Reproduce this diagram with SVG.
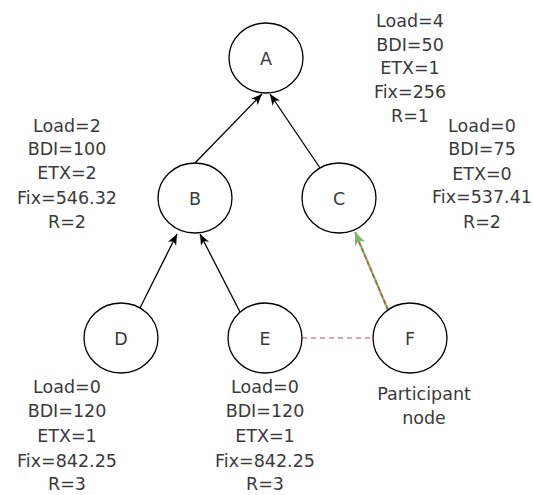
<svg xmlns="http://www.w3.org/2000/svg" width="533" height="495" viewBox="0 0 533 495">
<style>
.node ellipse{fill:#fff;stroke:#000;stroke-width:1.3}
.lbl{font-family:"DejaVu Sans",sans-serif;font-size:17.5px;fill:#3a3a3a;text-anchor:middle}
.info{font-family:"DejaVu Sans",sans-serif;font-size:17.5px;fill:#3a3a3a;text-anchor:middle}
.edge{stroke:#000;stroke-width:1.3;fill:none}
</style>
<defs>
<marker id="ah" markerUnits="userSpaceOnUse" markerWidth="12" markerHeight="10" refX="11" refY="4.5" orient="auto">
<path d="M0,0 L11,4.5 L0,9 L3,4.5 z" fill="#000"/>
</marker>
<marker id="ahg" markerUnits="userSpaceOnUse" markerWidth="14" markerHeight="12" refX="13" refY="5.5" orient="auto">
<path d="M0,0 L13,5.5 L0,11 L3.5,5.5 z" fill="#82b366"/>
</marker>
</defs>
<g id="connectors">
<line class="edge" x1="195" y1="163" x2="262" y2="94" marker-end="url(#ah)"/>
<line class="edge" x1="320" y1="168" x2="270" y2="94" marker-end="url(#ah)"/>
<line class="edge" x1="140" y1="308" x2="177" y2="234" marker-end="url(#ah)"/>
<line class="edge" x1="240" y1="312" x2="200" y2="234" marker-end="url(#ah)"/>
<line x1="388" y1="310" x2="355" y2="232" stroke="#82b366" stroke-width="2.2" marker-end="url(#ahg)"/>
<line x1="388" y1="310" x2="359" y2="242" stroke="#b85450" stroke-width="1.4" stroke-dasharray="4,3"/>
<line x1="302" y1="338" x2="373" y2="338" stroke="#b85450" stroke-width="1.2" stroke-dasharray="5,4"/>
</g>
<g id="node-A" class="node"><ellipse cx="266" cy="58" rx="37" ry="35"/><text class="lbl" x="266" y="65">A</text></g>
<g id="node-B" class="node"><ellipse cx="195" cy="198" rx="37" ry="35"/><text class="lbl" x="195" y="205">B</text></g>
<g id="node-C" class="node"><ellipse cx="339" cy="198" rx="37" ry="35"/><text class="lbl" x="339" y="205">C</text></g>
<g id="node-D" class="node"><ellipse cx="121" cy="338" rx="37" ry="35"/><text class="lbl" x="121" y="345">D</text></g>
<g id="node-E" class="node"><ellipse cx="265" cy="338" rx="37" ry="35"/><text class="lbl" x="265" y="345">E</text></g>
<g id="node-F" class="node"><ellipse cx="410" cy="338" rx="37" ry="35"/><text class="lbl" x="410" y="345">F</text></g>
<g id="info-A"><text class="info"><tspan x="410" y="27">Load=4</tspan><tspan x="410" y="51">BDI=50</tspan><tspan x="410" y="74">ETX=1</tspan><tspan x="410" y="98">Fix=256</tspan><tspan x="410" y="122">R=1</tspan></text></g>
<g id="info-B"><text class="info"><tspan x="67" y="132">Load=2</tspan><tspan x="67" y="155">BDI=100</tspan><tspan x="67" y="179">ETX=2</tspan><tspan x="67" y="204">Fix=546.32</tspan><tspan x="67" y="228">R=2</tspan></text></g>
<g id="info-C"><text class="info"><tspan x="482" y="132">Load=0</tspan><tspan x="482" y="155">BDI=75</tspan><tspan x="482" y="180">ETX=0</tspan><tspan x="482" y="203">Fix=537.41</tspan><tspan x="482" y="228">R=2</tspan></text></g>
<g id="info-D"><text class="info"><tspan x="67" y="393">Load=0</tspan><tspan x="67" y="417">BDI=120</tspan><tspan x="67" y="442">ETX=1</tspan><tspan x="67" y="467">Fix=842.25</tspan><tspan x="67" y="490">R=3</tspan></text></g>
<g id="info-E"><text class="info"><tspan x="265" y="393">Load=0</tspan><tspan x="265" y="417">BDI=120</tspan><tspan x="265" y="442">ETX=1</tspan><tspan x="265" y="467">Fix=842.25</tspan><tspan x="265" y="490">R=3</tspan></text></g>
<g id="info-F"><text class="info"><tspan x="424" y="400">Participant</tspan><tspan x="424" y="424">node</tspan></text></g>
</svg>
